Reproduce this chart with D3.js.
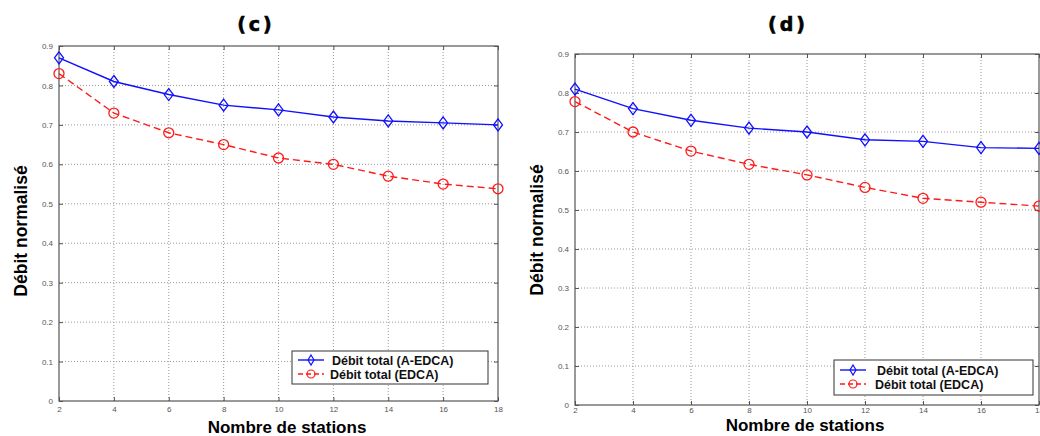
<!DOCTYPE html>
<html>
<head>
<meta charset="utf-8">
<script src="https://cdn.jsdelivr.net/npm/d3@7"></script>
<style>
  html, body { margin: 0; padding: 0; background: #fff; }
  svg { display: block; }
</style>
</head>
<body>
<svg id="chart" width="1040" height="436"></svg>
<script>
// Number of stations (x axis)
const stations = [2, 4, 6, 8, 10, 12, 14, 16, 18];
const yTicks = [0, 0.1, 0.2, 0.3, 0.4, 0.5, 0.6, 0.7, 0.8, 0.9];

// Panel (c)
const aedcaC = [0.87, 0.81, 0.777, 0.75, 0.738, 0.72, 0.71, 0.705, 0.70];
const edcaC  = [0.83, 0.73, 0.68, 0.65, 0.616, 0.60, 0.57, 0.55, 0.538];

// Panel (d)
const aedcaD = [0.81, 0.76, 0.73, 0.71, 0.70, 0.68, 0.676, 0.66, 0.658];
const edcaD  = [0.778, 0.70, 0.651, 0.617, 0.59, 0.558, 0.53, 0.52, 0.51];

const legendLabels = ["Débit total (A-EDCA)", "Débit total (EDCA)"];
const xTitle = "Nombre de stations";
const yTitle = "Débit normalisé";

const svg = d3.select("#chart");
const SANS = "Liberation Sans, Arial, sans-serif";

function panel(cfg) {
  const g = svg.append("g");
  const x = d3.scaleLinear().domain([2, 18]).range([cfg.x0, cfg.x1]);
  const y = d3.scaleLinear().domain([0, 0.9]).range([cfg.y1, cfg.y0]);

  // dotted grid
  g.append("g").selectAll("line").data(stations.slice(1, -1)).join("line")
    .attr("x1", d => x(d)).attr("x2", d => x(d))
    .attr("y1", cfg.y0).attr("y2", cfg.y1)
    .attr("stroke", "#9a9a9a").attr("stroke-width", 1).attr("stroke-dasharray", "1,2");
  g.append("g").selectAll("line").data(yTicks.slice(1, -1)).join("line")
    .attr("y1", d => y(d)).attr("y2", d => y(d))
    .attr("x1", cfg.x0).attr("x2", cfg.x1)
    .attr("stroke", "#9a9a9a").attr("stroke-width", 1).attr("stroke-dasharray", "1,2");

  // axes with inward ticks on all four sides
  const tickStyle = sel => {
    sel.select(".domain").remove();
    sel.selectAll(".tick line").attr("stroke", "#555");
    sel.selectAll(".tick text").attr("fill", "#555")
      .style("font-family", SANS).style("font-size", "8px");
  };
  g.append("g").attr("transform", `translate(0,${cfg.y1})`)
    .call(d3.axisBottom(x).tickValues(stations).tickSizeInner(-4).tickSizeOuter(0).tickPadding(cfg.xpad).tickFormat(d3.format("d")))
    .call(tickStyle);
  g.append("g").attr("transform", `translate(0,${cfg.y0})`)
    .call(d3.axisTop(x).tickValues(stations).tickSizeInner(-4).tickSizeOuter(0).tickFormat(""))
    .call(tickStyle);
  g.append("g").attr("transform", `translate(${cfg.x0},0)`)
    .call(d3.axisLeft(y).tickValues(yTicks).tickSizeInner(-4).tickSizeOuter(0).tickPadding(6).tickFormat(d => d === 0 ? "0" : d3.format(".1f")(d)))
    .call(tickStyle);
  g.append("g").attr("transform", `translate(${cfg.x1},0)`)
    .call(d3.axisRight(y).tickValues(yTicks).tickSizeInner(-4).tickSizeOuter(0).tickFormat(""))
    .call(tickStyle);

  // frame
  g.append("rect").attr("x", cfg.x0).attr("y", cfg.y0)
    .attr("width", cfg.x1 - cfg.x0).attr("height", cfg.y1 - cfg.y0)
    .attr("fill", "none").attr("stroke", "#555").attr("stroke-width", 1.2);

  const line = d3.line().x((d, i) => x(stations[i])).y(d => y(d));

  // A-EDCA: solid blue with diamonds
  g.append("path").datum(cfg.a).attr("d", line)
    .attr("fill", "none").attr("stroke", "#1010ff").attr("stroke-width", 1.4);
  g.append("g").selectAll("path").data(cfg.a).join("path")
    .attr("transform", (d, i) => `translate(${x(stations[i])},${y(d)})`)
    .attr("d", "M0,-6L4.5,0L0,6L-4.5,0Z")
    .attr("fill", "none").attr("stroke", "#1010ff").attr("stroke-width", 1.3);

  // EDCA: dashed red with circles
  g.append("path").datum(cfg.e).attr("d", line)
    .attr("fill", "none").attr("stroke", "#ff1a1a").attr("stroke-width", 1.4).attr("stroke-dasharray", "7,4");
  g.append("g").selectAll("circle").data(cfg.e).join("circle")
    .attr("cx", (d, i) => x(stations[i])).attr("cy", d => y(d)).attr("r", 5)
    .attr("fill", "none").attr("stroke", "#ff1a1a").attr("stroke-width", 1.3);

  // titles
  g.append("text").attr("x", cfg.tx).attr("y", 31).attr("text-anchor", "middle")
    .style("font-family", "DejaVu Sans, sans-serif").style("font-weight", "bold")
    .attr("stroke", "#000").attr("stroke-width", 0.6)
    .style("font-size", "19px").style("letter-spacing", "3px").text(cfg.title);
  g.append("text").attr("x", cfg.xlx).attr("y", cfg.xly).attr("text-anchor", "middle")
    .style("font-family", SANS).style("font-weight", "bold")
    .style("font-size", "17px").text(xTitle);
  g.append("text").attr("transform", `translate(${cfg.ylx},${cfg.yly}) rotate(-90)`)
    .attr("text-anchor", "middle")
    .style("font-family", SANS).style("font-weight", "bold")
    .style("font-size", "17.5px").text(yTitle);

  // legend
  const L = cfg.leg;
  g.append("rect").attr("x", L.x).attr("y", L.y).attr("width", L.w).attr("height", L.h)
    .attr("fill", "#fff").attr("stroke", "#333").attr("stroke-width", 1);
  const rows = [
    { c: "#1010ff", dash: null, mark: "d" },
    { c: "#ff1a1a", dash: "5,3", mark: "o" }
  ];
  rows.forEach((r, i) => {
    const cy = L.y + L.r0 + i * 14;
    g.append("line").attr("x1", L.x + 6).attr("x2", L.x + 32).attr("y1", cy).attr("y2", cy)
      .attr("stroke", r.c).attr("stroke-width", 1.4).attr("stroke-dasharray", r.dash);
    if (r.mark === "d") {
      g.append("path").attr("transform", `translate(${L.x + 19},${cy})`)
        .attr("d", "M0,-5L3,0L0,5L-3,0Z").attr("fill", "none").attr("stroke", r.c).attr("stroke-width", 1.2);
    } else {
      g.append("circle").attr("cx", L.x + 19).attr("cy", cy).attr("r", 4)
        .attr("fill", "none").attr("stroke", r.c).attr("stroke-width", 1.2);
    }
    g.append("text").attr("x", L.x + L.tx[i]).attr("y", cy + 4.5)
      .style("font-family", SANS).style("font-weight", "bold")
      .style("font-size", "12.5px").attr("fill", "#111").text(legendLabels[i]);
  });
}

panel({
  x0: 59, x1: 498, y0: 46, y1: 401,
  a: aedcaC, e: edcaC, title: "(c)", tx: 256, xpad: 5,
  xlx: 287, xly: 433, ylx: 27, yly: 231,
  leg: { x: 292, y: 351, w: 196, h: 33, r0: 9, tx: [40, 38] }
});

panel({
  x0: 575, x1: 1039, y0: 54, y1: 405,
  a: aedcaD, e: edcaD, title: "(d)", tx: 788, xpad: 2,
  xlx: 805, xly: 431, ylx: 543, yly: 230,
  leg: { x: 834, y: 360, w: 199, h: 35, r0: 10, tx: [43, 41] }
});
</script>
</body>
</html>
